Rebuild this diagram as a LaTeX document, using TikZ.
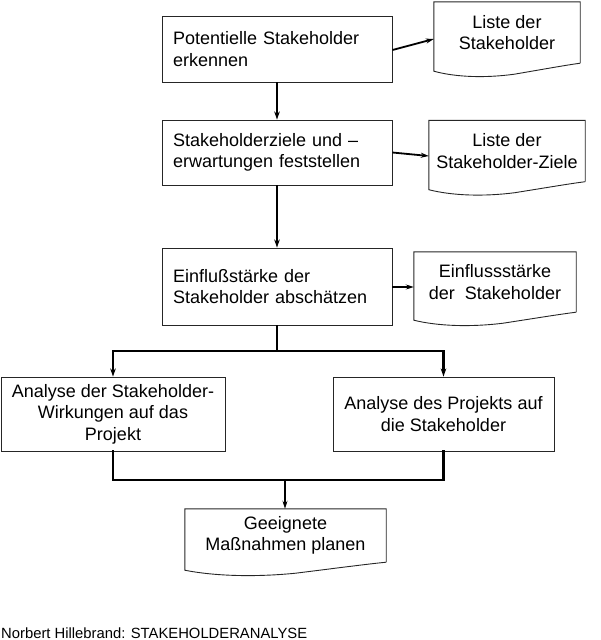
\documentclass[tikz,border=0pt]{standalone}
\usepackage{fontspec}
\setmainfont{Liberation Sans}
\usetikzlibrary{arrows.meta,calc}
\tikzset{
  boxline/.style={draw=black!85, line width=0.9pt},
  procbox/.style={boxline, rectangle, inner ysep=2pt, font=\fontsize{18}{21.5}\selectfont},
  leftbox/.style={procbox, text width=208pt, inner xsep=11pt, align=left},
  ctrbox/.style={procbox, align=center},
  docnode/.style={rectangle, draw=none, inner sep=2pt, align=center, font=\fontsize{18}{21.5}\selectfont},
  conn/.style={draw=black, line width=2.2pt},
  arr/.style={conn, -{Stealth[length=8pt,width=5.5pt]}},
  sidearr/.style={draw=black, line width=1.8pt, -{Stealth[length=8pt,width=5pt]}},
  thinarr/.style={draw=black, line width=1.4pt, -{Stealth[length=8pt,width=5pt]}}
}
\newcommand\docwave[1]{%
  \draw[boxline] (#1.south east) -- (#1.north east) -- (#1.north west) -- ($(#1.south west)+(0,8)$)
    .. controls ($(#1.south west)!0.15!(#1.south east)+(0,14)$) and ($(#1.south west)!0.35!(#1.south east)+(0,15)$)
    .. ($(#1.south west)!0.55!(#1.south east)+(0,11)$)
    .. controls ($(#1.south west)!0.75!(#1.south east)+(0,6)$) and ($(#1.south west)!0.9!(#1.south east)+(0,2)$)
    .. (#1.south east);}
\begin{document}
\begin{tikzpicture}[x=1pt,y=-1pt]
\useasboundingbox (0,0) rectangle (600,640);
% process boxes
\node[leftbox, minimum height=66pt] (b1) at (277,49) {Potentielle Stakeholder\\erkennen};
\node[leftbox, minimum height=65pt] (b2) at (277,152.5) {Stakeholderziele und –\\erwartungen feststellen};
\node[leftbox, minimum height=77pt] (b3) at (277,286.5) {Einflußstärke der\\Stakeholder abschätzen};
\node[ctrbox, minimum width=224pt, minimum height=74pt] (b4) at (113,414) {Analyse der Stakeholder-\\Wirkungen auf das\\Projekt};
\node[ctrbox, minimum width=221pt, minimum height=74pt] (b5) at (443.5,414) {Analyse des Projekts auf\\die Stakeholder};
% documents
\node[docnode, minimum width=146pt, minimum height=61pt] (d1) at (507,32.5) {Liste der\\Stakeholder};
\node[docnode, minimum width=156pt, minimum height=61pt] (d2) at (507,151) {Liste der\\Stakeholder-Ziele};
\node[docnode, minimum width=162pt, minimum height=60pt] (d3) at (495,282) {Einflussstärke\\der~ Stakeholder};
\node[docnode, minimum width=201pt, minimum height=53pt] (d4) at (285.5,535.5) {Geeignete\\Maßnahmen planen};
\docwave{d1}
\docwave{d2}
\docwave{d3}
\docwave{d4}
% footer
\node[anchor=base west, inner sep=0pt, font=\fontsize{14.8}{17}\selectfont] (foot) at (1,638) {Norbert Hillebrand: STAKEHOLDERANALYSE};
% connectors
\draw[arr] (b1.south) -- (b2.north);
\draw[arr] (b2.south) -- (b3.north);
\draw[sidearr] ($(b1.east)+(0,1)$) -- ($(d1.west)+(0,6.5)$);
\draw[sidearr] (b2.east) -- ($(d2.west)+(0,5)$);
\draw[sidearr] ($(b3.east)+(0,0.5)$) -- ($(b3.east -| d3.west)+(0,0.5)$);
\coordinate (bus1) at (277,351);
\coordinate (bus2) at (285,480);
\draw[conn] (b3.south) -- (bus1);
\draw[conn, line cap=rect] (b4.north |- bus1) -- (b5.north |- bus1);
\draw[arr] (b4.north |- bus1) -- (b4.north);
\draw[arr] (b5.north |- bus1) -- (b5.north);
\draw[conn, line cap=rect] (b4.south) -- (b4.south |- bus2) -- (b5.south |- bus2) -- (b5.south);
\draw[thinarr] (bus2) -- (d4.north -| bus2);
\end{tikzpicture}
\end{document}
